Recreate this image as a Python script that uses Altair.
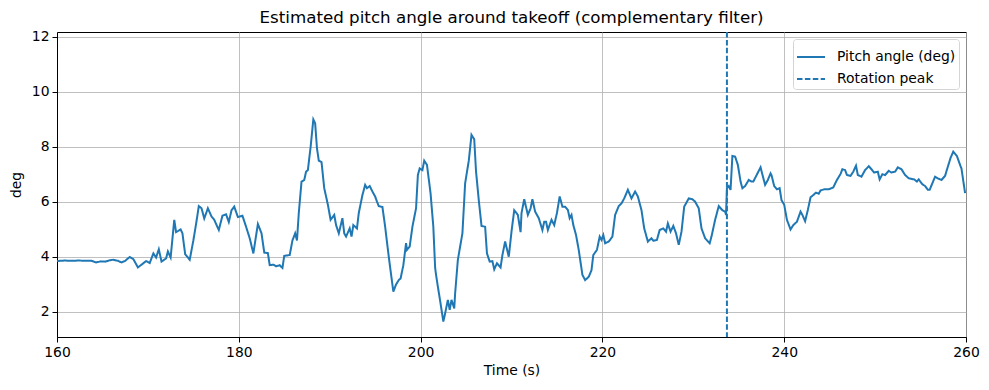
import altair as alt
import pandas as pd

time_s = [160.0,160.8,161.6,162.4,163.2,163.8,164.3,164.8,165.3,165.8,166.2,166.7,167.1,167.5,168.0,168.4,168.9,169.3,169.8,170.2,
170.6,170.9,171.2,171.5,172.0,172.2,172.5,172.9,173.1,173.6,173.8,174.1,174.6,175.0,175.3,175.6,175.9,176.2,176.6,177.0,
177.3,177.8,178.2,178.6,178.9,179.2,179.5,179.9,180.4,180.8,181.2,181.6,182.1,182.5,182.8,183.2,183.4,183.8,184.1,184.5,
184.8,185.0,185.6,185.9,186.2,186.4,186.6,186.9,187.2,187.4,187.6,187.9,188.2,188.4,188.6,188.8,189.1,189.4,189.8,190.1,
190.5,190.7,191.0,191.4,191.6,191.8,192.2,192.4,192.6,193.0,193.2,193.6,193.9,194.1,194.4,194.7,195.0,195.2,195.4,195.8,
196.1,196.5,197.0,197.3,197.6,197.8,198.1,198.4,198.5,198.8,199.1,199.5,199.7,199.9,200.2,200.4,200.7,201.1,201.4,201.6,
201.7,201.9,202.2,202.5,202.7,203.0,203.2,203.4,203.7,203.8,204.1,204.6,204.9,205.3,205.6,205.9,206.1,206.4,206.7,207.1,
207.3,207.6,207.9,208.1,208.4,208.8,209.0,209.3,209.7,210.0,210.3,210.7,211.0,211.1,211.4,211.8,212.1,212.3,212.6,213.0,
213.4,213.6,213.8,214.0,214.4,214.7,215.0,215.3,215.6,215.9,216.2,216.4,216.6,216.8,217.1,217.4,217.8,218.1,218.5,218.8,
219.0,219.4,219.7,219.9,220.1,220.3,220.7,221.1,221.4,221.8,222.1,222.4,222.8,223.2,223.6,223.9,224.3,224.6,225.0,225.4,
225.6,226.0,226.3,226.7,227.0,227.2,227.5,227.8,228.1,228.4,228.7,229.0,229.5,229.9,230.2,230.6,230.9,231.3,231.8,232.0,
232.4,232.8,233.2,233.5,233.6,233.7,233.9,234.1,234.3,234.6,234.9,235.2,235.4,235.7,236.1,236.4,236.6,237.0,237.4,237.6,
237.9,238.2,238.5,238.6,238.9,239.2,239.5,239.7,240.0,240.3,240.7,241.0,241.4,241.8,242.0,242.3,242.6,242.9,243.2,243.5,
243.8,244.0,244.4,244.9,245.4,245.8,246.2,246.4,246.7,246.9,247.3,247.6,247.9,248.1,248.5,248.9,249.3,249.6,249.9,250.3,
250.5,250.8,251.1,251.5,251.8,252.2,252.5,252.9,253.3,253.7,254.3,254.6,254.8,255.2,255.5,255.8,256.0,256.3,256.6,256.9,
257.3,257.7,258.0,258.3,258.6,259.0,259.4,259.5,259.9]

pitch_deg = [3.85,3.87,3.86,3.87,3.86,3.86,3.80,3.84,3.83,3.88,3.90,3.86,3.80,3.86,4.00,3.92,3.62,3.72,3.85,3.78,
4.13,3.98,4.28,3.83,3.95,4.20,3.98,5.35,4.90,5.00,4.86,4.10,3.90,4.60,5.20,5.85,5.77,5.40,5.77,5.47,
5.35,4.98,5.50,5.55,5.27,5.70,5.83,5.45,5.50,5.10,4.68,4.13,5.20,4.86,4.16,4.14,3.70,3.72,3.66,3.70,
3.60,4.04,4.07,4.60,4.86,4.60,5.60,6.74,6.80,7.10,7.16,8.00,9.00,8.86,7.95,7.50,7.45,6.50,5.90,5.35,
5.53,5.16,4.86,5.41,4.86,4.74,5.04,4.74,5.16,5.04,5.60,6.25,6.62,6.50,6.58,6.38,6.20,6.01,5.85,5.82,
5.10,4.00,2.74,3.00,3.16,3.22,3.70,4.50,4.26,4.38,5.10,5.77,6.98,7.22,7.16,7.50,7.35,6.30,5.10,3.60,
3.35,2.92,2.30,1.65,1.95,2.44,2.08,2.44,2.13,2.68,3.90,4.86,6.68,7.50,8.44,8.28,7.10,6.07,5.13,5.10,
4.13,3.83,3.85,3.55,3.77,3.62,4.07,4.56,4.01,4.92,5.70,5.53,4.90,5.59,6.10,5.53,5.77,6.10,5.65,5.41,
4.98,5.28,5.28,4.98,5.35,5.16,5.60,6.20,5.83,5.83,5.71,5.41,5.53,5.16,4.80,4.25,3.35,3.16,3.28,3.52,
4.07,4.26,4.74,4.62,4.80,4.50,4.56,4.74,5.53,5.85,5.95,6.13,6.44,6.13,6.38,6.20,5.70,5.04,4.56,4.68,
4.59,4.62,4.98,5.04,4.92,5.22,4.92,5.13,4.86,4.44,4.92,5.83,6.13,6.10,6.01,5.77,5.04,4.68,4.50,4.74,
5.35,5.85,5.70,5.65,5.53,6.50,6.58,6.44,7.67,7.65,7.35,6.74,6.50,6.58,6.80,6.74,6.74,7.00,7.26,7.00,
6.62,6.80,7.04,6.98,6.58,6.46,6.50,6.07,5.90,5.35,5.00,5.16,5.28,5.65,5.53,5.30,5.71,6.17,6.25,6.34,
6.30,6.42,6.46,6.46,6.53,6.80,7.02,7.19,7.16,6.98,6.95,7.10,7.32,6.98,6.92,7.16,7.30,7.19,7.07,7.10,
6.82,7.01,6.98,7.13,7.07,7.10,7.26,7.19,6.98,6.86,6.82,6.74,6.82,6.64,6.58,6.44,6.44,6.68,6.92,6.86,
6.80,6.95,7.28,7.60,7.83,7.67,7.30,7.22,6.32]

peak_time = [233.7]
series_names = ["Pitch angle (deg)", "Rotation peak"]
x_ticks = [160, 180, 200, 220, 240, 260]
y_ticks = [2, 4, 6, 8, 10, 12]

df_line = pd.DataFrame({"t": time_s, "v": pitch_deg, "series": series_names[0]})
df_peak = pd.DataFrame({"t": peak_time, "series": series_names[1]})

FONT = "DejaVu Sans"
BLUE = "#1f77b4"

color_scale = alt.Scale(domain=series_names, range=[BLUE, BLUE])
dash_scale = alt.Scale(domain=series_names, range=[[1, 0], [5.5, 2.4]])
legend = alt.Legend(
    title=None, orient="top-right", offset=7, fillColor="white",
    strokeColor="#d5d5d5", padding=3, cornerRadius=3,
    labelFont=FONT, labelFontSize=13.9, labelColor="black",
    symbolType="stroke", symbolSize=784, symbolStrokeWidth=2,
    rowPadding=-1, labelOffset=11,
)

x_enc = alt.X("t:Q", title="Time (s)",
              scale=alt.Scale(domain=[160, 260], nice=False, zero=False),
              axis=alt.Axis(values=x_ticks, format="d"))

line = alt.Chart(df_line).mark_line(strokeWidth=2, clip=True).encode(
    x=x_enc,
    y=alt.Y("v:Q", title="deg",
            scale=alt.Scale(domain=[1.09, 12.18], nice=False, zero=False),
            axis=alt.Axis(values=y_ticks, format="d")),
    color=alt.Color("series:N", scale=color_scale, legend=legend),
    strokeDash=alt.StrokeDash("series:N", scale=dash_scale, legend=legend),
)

rule = alt.Chart(df_peak).mark_rule(strokeWidth=2, clip=True).encode(
    x=alt.X("t:Q"),
    color=alt.Color("series:N", scale=color_scale, legend=legend),
    strokeDash=alt.StrokeDash("series:N", scale=dash_scale, legend=legend),
)

chart = alt.layer(line, rule).properties(
    width=909, height=305,
    autosize=alt.AutoSizeParams(type="none"),
    padding={"left": 49, "top": 24, "right": 14, "bottom": 45},
    title=alt.Title("Estimated pitch angle around takeoff (complementary filter)",
                    font=FONT, fontSize=16.7, fontWeight="normal", color="black",
                    anchor="middle", offset=3),
).configure_view(
    stroke="black", strokeWidth=1
).configure_axis(
    labelFont=FONT, labelFontSize=13.9, labelColor="black",
    titleFont=FONT, titleFontSize=13.9, titleColor="black", titleFontWeight="normal",
    grid=True, gridColor="#b0b0b0", gridWidth=0.8,
    domainColor="black", domainWidth=1,
    tickColor="black", tickSize=5, tickWidth=1, labelPadding=3,
).configure_axisX(
    titlePadding=5, labelFlush=False,
).configure_axisY(
    titlePadding=8,
)

chart.save("out.html", embed_options={"renderer": "svg", "actions": False})
